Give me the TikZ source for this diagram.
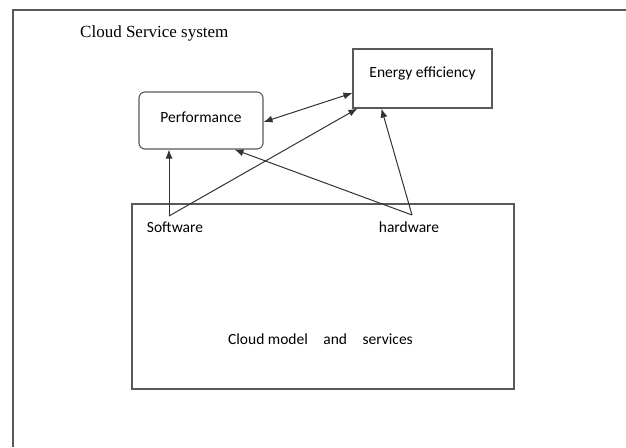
\documentclass[tikz,border=0pt]{standalone}
\usepackage{fontspec}
\setmainfont{Liberation Serif}
\newfontfamily\boxfont{Carlito}
\usetikzlibrary{arrows.meta}

\begin{document}
\begin{tikzpicture}[x=1pt, y=-1pt,
every node/.style={font=\boxfont\fontsize{15.5}{18}\selectfont, inner sep=0pt},
box/.style={draw=black!65, line width=1.1pt},
link/.style={draw=black!80, line width=1pt, -{Latex[length=9pt,width=7pt]}}]
\useasboundingbox (0,0) rectangle (626,447);
\draw[black!65, line width=1.4pt] (13,447) -- (13,10) -- (626,10);

\node[anchor=west, font=\rmfamily\fontsize{17}{20}\selectfont] (title) at (80,33) {Cloud Service system};

\node[box, rounded corners=6pt, minimum width=124pt, minimum height=57pt,
      text height=10pt, text depth=6pt] (perf) at (201,120.5) {Performance};
\node[box, minimum width=139pt, minimum height=59pt,
      text height=10pt, text depth=13pt] (energy) at (422.5,78.5) {Energy efficiency};

% the model box and what sits in it
\node[box, minimum width=382pt, minimum height=185pt] (cloud) at (323,296.5) {};
\node (software) at (175,227) {Software};
\node (hardware) at (409,227) {hardware};
\node (model) at (320.5,339) {Cloud model\hspace{12pt} and\hspace{12pt} services};
\coordinate (sw) at (169,216);
\coordinate (hw) at (412,215);

\draw[link] (sw) -- (sw |- perf.south);
\draw[link] (sw) -- ([xshift=5pt]energy.south west);
\draw[link] (hw) -- ([xshift=-29pt]perf.south east);
\draw[link] (hw) -- ([xshift=29pt]energy.south west);
\draw[link, {Latex[length=9pt,width=7pt]}-{Latex[length=9pt,width=7pt]}]
  ([yshift=-1.5pt]perf.east) -- ([yshift=-14.5pt]energy.west);
\end{tikzpicture}
\end{document}
